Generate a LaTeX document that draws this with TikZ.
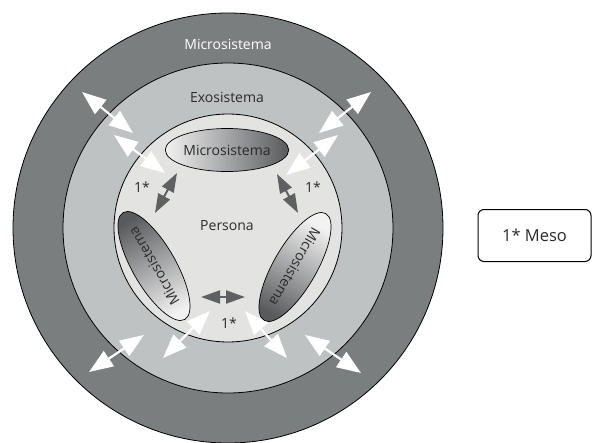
\documentclass[tikz,border=0pt]{standalone}
\usepackage{fontspec}
\setmainfont{Open Sans}
\usetikzlibrary{arrows.meta,shapes.geometric}
\definecolor{ringdark}{HTML}{7B7E7F}
\definecolor{ringmid}{HTML}{BFC2C3}
\definecolor{ringlight}{HTML}{E3E3E2}
\definecolor{labeldark}{HTML}{2B2B2B}
\definecolor{mesogray}{HTML}{5E6062}
\definecolor{microlight}{HTML}{F2F2F2}
\definecolor{microdark}{HTML}{585A5C}
\begin{document}
\begin{tikzpicture}[x=1pt,y=-1pt,
  ring/.style={draw=black,line width=0.8pt},
  lbl/.style={font=\fontsize{14}{16}\selectfont,text=labeldark,inner sep=0pt},
  micro/.style={ellipse,draw=black,line width=0.7pt,minimum width=112pt,
    minimum height=43pt,inner sep=0pt,font=\fontsize{14}{16}\selectfont,
    text=labeldark,shading=axis,top color=microlight,bottom color=microdark},
  link/.style={draw=white,line width=2.2pt,
    {Triangle[length=24pt,width=18pt]}-{Triangle[length=24pt,width=18pt]}},
  meso/.style={draw=mesogray,line width=2pt,
    {Triangle[length=19pt,width=13pt]}-{Triangle[length=19pt,width=13pt]}}
]
\useasboundingbox (0,0) rectangle (594,442);
% nested systems
\coordinate (c) at (228,228);
\fill[ringdark] (c) circle (215);
\draw[ring] (c) circle (215);
\filldraw[ring,fill=ringmid] (c) circle (165);
\filldraw[ring,fill=ringlight] (c) circle (114);

% ring labels
\node[lbl,text=white] (macro) at (228,44) {Microsistema};
\node[lbl] (exo) at (227,97) {Exosistema};
\node[lbl] (persona) at (227,226) {Persona};

% micro-systems around the person (light end where the label starts)
\node[micro,shading angle=90] (mtop) at (227,150) {Microsistema};
\node[micro,rotate=120,shading angle=210] (mleft) at (154,266) {Microsistema};
\node[micro,rotate=-120,shading angle=-30] (mright) at (295,267) {Microsistema};

% meso labels
\node[lbl] (m1) at (142,187) {1*};
\node[lbl] (m2) at (313,187) {1*};
\node[lbl] (m3) at (229,323) {1*};

% meso links between micro-systems
\coordinate (la) at (177,173); \coordinate (lb) at (155,213);
\coordinate (ra) at (277,174); \coordinate (rb) at (298,213);
\coordinate (ba) at (201,297); \coordinate (bb) at (245,297);
\draw[meso] (la) -- (lb);
\draw[meso] (ra) -- (rb);
\draw[meso] (ba) -- (bb);

% exchanges across the system borders
\coordinate (nwo1) at (82,92);   \coordinate (nwo2) at (133,133);
\coordinate (nwi1) at (114,135); \coordinate (nwi2) at (165,173);
\coordinate (neo1) at (371,92);  \coordinate (neo2) at (319,133);
\coordinate (nei1) at (338,135); \coordinate (nei2) at (286,175);
\coordinate (swo1) at (89,372);  \coordinate (swo2) at (144,335);
\coordinate (swi1) at (163,358); \coordinate (swi2) at (210,311);
\coordinate (seo1) at (305,335); \coordinate (seo2) at (361,373);
\coordinate (sei1) at (245,311); \coordinate (sei2) at (287,358);
\foreach \p in {nwo,nwi,neo,nei,swo,swi,seo,sei}
  \draw[link] (\p1) -- (\p2);

% legend
\node[draw=black,line width=1pt,rounded corners=6pt,minimum width=113pt,
  minimum height=52pt,font=\fontsize{16.5}{19}\selectfont,text=labeldark]
  (legend) at (534.5,235.5) {1* Meso};
\end{tikzpicture}
\end{document}
